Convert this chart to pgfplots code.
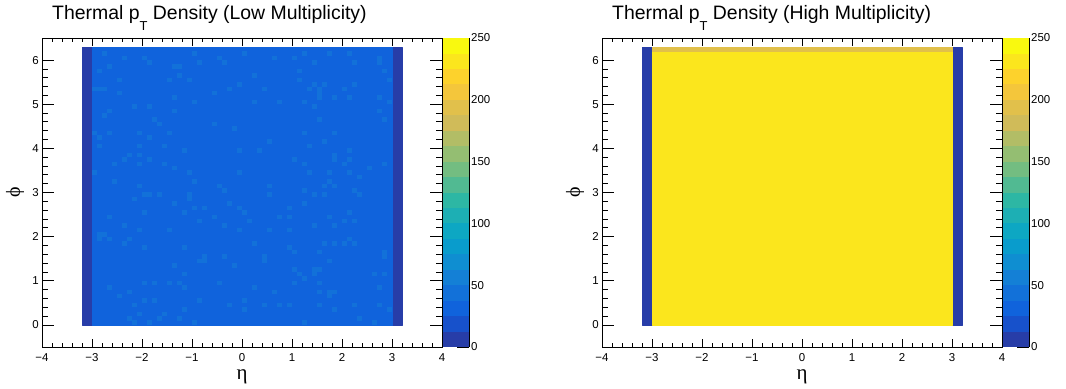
\documentclass[border=0pt]{standalone}
\usepackage{pgfplots}
\pgfplotsset{compat=1.18}
\usepgfplotslibrary{patchplots}
\usepackage{fontspec}
\setmainfont{Liberation Sans}
\newfontfamily\greekfont{Liberation Serif}

\pgfplotsset{
  colormap={rootbird}{
    rgb255=(39,61,168) rgb255=(23,81,203) rgb255=(16,99,220) rgb255=(18,113,217)
    rgb255=(20,128,214) rgb255=(15,142,209) rgb255=(9,156,204) rgb255=(13,167,195)
    rgb255=(29,175,180) rgb255=(45,183,164) rgb255=(81,186,146) rgb255=(115,189,129)
    rgb255=(148,190,114) rgb255=(178,189,102) rgb255=(208,187,89) rgb255=(225,192,75)
    rgb255=(244,198,59) rgb255=(253,210,44) rgb255=(251,230,29) rgb255=(249,249,15)},
  colormap access=piecewise constant,
}

\pgfdeclareplotmark{cell}{\pgfpathrectangle{\pgfpoint{-2.55bp}{-2.26bp}}{\pgfpoint{5.1bp}{4.52bp}}\pgfusepathqfill}
\pgfdeclareplotmark{band}{\pgfpathrectangle{\pgfpoint{-13bp}{-7.8bp}}{\pgfpoint{26bp}{15.6bp}}\pgfusepathqfill}

\pgfplotstableread{
x y c
-3.2 0 6
-3.0 0 6
-3.0 6.3 6
-3.2 6.3 6
3.0 0 6
3.2 0 6
3.2 6.3 6
3.0 6.3 6
-3.0 0 31
3.0 0 31
3.0 6.3 31
-3.0 6.3 31
}\lowbase

\pgfplotstableread{
x y c
-3.2 0 8
-3.0 0 8
-3.0 6.3 8
-3.2 6.3 8
3.0 0 8
3.2 0 8
3.2 6.3 8
3.0 6.3 8
-3.0 0 231
3.0 0 231
3.0 6.2 231
-3.0 6.2 231
-3.0 6.2 195
3.0 6.2 195
3.0 6.3 195
-3.0 6.3 195
}\highbase

\pgfplotstableread{
x y c
-2.75 6.15 42
-2.35 6.05 42
-1.95 6.05 42
-1.85 5.95 42
-0.95 6.15 42
-0.45 6.05 42
-0.85 5.95 42
-0.35 5.95 42
-2.65 5.85 42
-1.35 5.85 42
-1.25 5.85 42
-2.85 5.75 42
-1.25 5.65 42
-2.45 5.55 42
-1.45 5.55 42
-1.05 5.55 42
-0.05 5.45 42
-2.95 5.35 42
-2.85 5.35 42
-2.75 5.35 42
-0.25 5.35 42
-2.45 5.25 42
-0.55 5.25 42
-1.35 5.15 42
-0.95 5.05 42
-2.15 4.95 42
-1.85 4.95 42
-2.65 4.85 42
-1.35 4.85 42
-2.75 4.75 42
-1.75 4.65 42
-1.65 4.55 42
-0.55 4.55 42
-0.15 4.45 42
-2.95 4.35 42
-2.65 4.35 42
-2.05 4.35 42
-1.45 4.35 42
-2.85 4.25 42
-1.85 4.25 42
-2.85 4.05 42
-2.05 4.05 42
-1.55 4.05 42
-1.15 3.95 42
-0.05 3.95 42
-2.25 3.85 42
-2.05 3.85 42
-2.35 3.75 42
-1.85 3.75 42
-2.55 3.65 42
-2.05 3.65 42
-1.55 3.65 42
-1.35 3.55 42
-2.95 3.45 42
-1.05 3.45 42
-0.05 3.45 42
-2.55 3.25 42
-0.95 3.25 42
0.05 6.15 42
0.65 6.05 42
1.05 6.05 42
1.25 6.15 42
1.75 6.15 42
2.15 6.15 42
1.45 5.95 42
2.25 5.95 42
2.75 6.05 42
2.75 5.95 42
1.15 5.75 42
2.85 5.75 42
0.25 5.65 42
1.15 5.55 42
2.95 5.55 42
1.45 5.45 42
1.65 5.45 42
2.25 5.45 42
1.35 5.35 42
1.55 5.35 42
1.55 5.25 42
1.55 5.15 42
2.05 5.35 42
0.45 5.35 42
1.85 5.15 42
2.15 5.15 42
2.75 5.15 42
0.25 5.05 42
0.75 5.05 42
1.25 5.05 42
2.95 5.05 42
1.45 4.95 42
2.75 4.85 42
1.55 4.65 42
2.85 4.65 42
1.25 4.35 42
1.85 4.35 42
0.55 4.15 42
1.65 4.15 42
1.35 4.05 42
0.35 3.95 42
2.15 3.95 42
1.85 3.85 42
1.85 3.75 42
1.05 3.75 42
2.15 3.75 42
1.25 3.65 42
2.05 3.65 42
2.85 3.65 42
2.55 3.55 42
1.35 3.45 42
1.75 3.45 42
2.15 3.45 42
2.35 3.35 42
1.75 3.25 42
-2.05 3.15 42
-0.45 3.15 42
-0.35 3.05 42
-1.95 2.95 42
-1.85 2.95 42
-1.65 2.95 42
-1.05 2.95 42
-1.05 2.85 42
-2.15 2.85 42
-1.35 2.75 42
-0.25 2.75 42
-0.95 2.65 42
-0.75 2.65 42
-0.05 2.65 42
-1.95 2.55 42
-1.15 2.55 42
-2.65 2.45 42
-0.55 2.45 42
-0.85 2.35 42
-2.35 2.25 42
-0.35 2.25 42
-2.05 2.15 42
-1.45 2.15 42
-0.05 2.15 42
-2.85 2.05 42
-2.75 2.05 42
-2.85 1.95 42
-2.65 1.95 42
-2.25 1.95 42
-2.35 1.85 42
-1.95 1.75 42
-1.15 1.75 42
-0.75 1.55 42
-0.85 1.45 42
-0.75 1.45 42
-0.35 1.55 42
-1.35 1.35 42
-0.15 1.35 42
-1.15 1.15 42
-1.95 0.95 42
-1.75 0.95 42
-1.45 0.95 42
-1.25 0.95 42
-0.45 0.95 42
-2.65 0.85 42
-1.15 0.85 42
-2.25 0.75 42
-2.45 0.65 42
-1.95 0.55 42
-1.75 0.55 42
-0.85 0.55 42
-2.15 0.45 42
-0.25 0.45 42
-1.15 0.35 42
-2.05 0.25 42
-1.55 0.25 42
-2.25 0.15 42
-1.65 0.15 42
-1.25 0.15 42
-2.15 0.05 42
-1.85 0.05 42
-0.95 0.05 42
0.55 3.15 42
1.65 3.15 42
1.85 3.15 42
1.25 3.05 42
2.25 3.05 42
0.55 2.95 42
1.45 2.95 42
1.65 2.95 42
2.35 2.95 42
1.25 2.75 42
0.95 2.65 42
0.05 2.55 42
2.15 2.55 42
0.75 2.45 42
0.95 2.45 42
1.75 2.45 42
0.15 2.35 42
2.05 2.35 42
2.25 2.35 42
1.45 2.25 42
1.85 2.25 42
0.55 2.15 42
0.95 2.15 42
2.15 1.95 42
0.25 1.85 42
1.65 1.85 42
1.85 1.85 42
2.05 1.85 42
2.25 1.85 42
0.95 1.75 42
1.05 1.65 42
1.55 1.65 42
2.85 1.65 42
2.85 1.55 42
0.45 1.55 42
0.45 1.45 42
1.75 1.45 42
1.05 1.25 42
1.45 1.25 42
1.55 1.25 42
1.15 1.15 42
1.45 1.15 42
2.65 1.15 42
2.85 1.15 42
1.25 1.05 42
1.05 0.95 42
1.55 0.95 42
0.25 0.85 42
2.75 0.85 42
0.65 0.75 42
1.55 0.75 42
1.75 0.75 42
1.85 0.75 42
1.75 0.65 42
0.05 0.55 42
0.45 0.45 42
0.75 0.45 42
0.95 0.45 42
1.55 0.45 42
2.25 0.45 42
2.75 0.45 42
0.05 0.35 42
1.85 0.35 42
2.95 0.35 42
2.35 0.15 42
2.65 0.05 42
1.25 0.05 42
}\lowspeck

\pgfplotstableread{
x y c
0.5 6.25 6.25
0.5 18.75 18.75
0.5 31.25 31.25
0.5 43.75 43.75
0.5 56.25 56.25
0.5 68.75 68.75
0.5 81.25 81.25
0.5 93.75 93.75
0.5 106.25 106.25
0.5 118.75 118.75
0.5 131.25 131.25
0.5 143.75 143.75
0.5 156.25 156.25
0.5 168.75 168.75
0.5 181.25 181.25
0.5 193.75 193.75
0.5 206.25 206.25
0.5 218.75 218.75
0.5 231.25 231.25
0.5 243.75 243.75
}\bandtable

\pgfplotsset{
  rootmap/.style={
    scale only axis, width=400bp, height=309bp, anchor=south west,
    xmin=-4, xmax=4, ymin=-0.5, ymax=6.5,
    point meta min=0, point meta max=250,
    xtick={-4,...,4},
    xticklabels={−4,−3,−2,−1,0,1,2,3,4},
    ytick={0,...,6},
    yticklabels={0,1,2,3,4,5,6},
    minor x tick num=4, minor y tick num=4,
    tick align=inside,
    major tick length=10bp, minor tick length=5bp,
    xtick style={/pgfplots/major tick length=8bp,/pgfplots/minor tick length=4bp},
    ytick style={/pgfplots/major tick length=12bp,/pgfplots/minor tick length=6bp},
    every tick/.style={black, line width=0.8bp},
    axis line style={line width=0.8bp},
    tick label style={font=\fontsize{11.5}{12}\selectfont},
    xticklabel style={anchor=north, inner sep=0pt, yshift=-6bp},
    yticklabel style={anchor=east, inner sep=0pt, xshift=-3bp},
    xlabel={\greekfont η}, ylabel={\greekfont ϕ},
    every axis x label/.style={at={(axis description cs:0.5,-0.1068)}, anchor=base, inner sep=0pt, font=\fontsize{21}{21}\selectfont},
    every axis y label/.style={at={(axis description cs:-0.0675,0.5)}, rotate=90, anchor=center, inner sep=0pt, font=\fontsize{20}{20}\selectfont},
    axis on top,
    clip=true,
  },
  rootbar/.style={
    scale only axis, width=26bp, height=309bp, anchor=south west,
    xmin=0, xmax=1, ymin=0, ymax=250,
    point meta min=0, point meta max=250,
    axis x line=none, axis y line*=right,
    ytick={0,50,100,150,200,250},
    yticklabels={0,50,100,150,200,250},
    minor ytick={},
    yticklabel pos=right,
    tick align=inside, major tick length=12.5bp,
    every tick/.style={black, line width=0.8bp},
    axis line style={line width=0.8bp},
    tick label style={font=\fontsize{11.5}{12}\selectfont},
    yticklabel style={anchor=west, inner sep=0pt, xshift=2bp},
    axis on top, clip=false,
  },
}

\begin{document}
\begin{tikzpicture}
\path[use as bounding box] (0,0) rectangle (1066bp,389bp);

% ---- Left panel ----
\begin{axis}[rootmap, at={(42bp,42bp)}]
\addplot[patch, patch type=rectangle, shader=flat corner, point meta=explicit] table[x=x, y=y, meta=c] {\lowbase};
\addplot[scatter, only marks, mark=cell, point meta=explicit] table[x=x, y=y, meta=c] {\lowspeck};
\end{axis}
\begin{axis}[rootbar, at={(443bp,42bp)}]
\addplot[scatter, only marks, mark=band, point meta=explicit] table[x=x, y=y, meta=c] {\bandtable};
\end{axis}
\node[anchor=base west, inner sep=0pt, font=\fontsize{19.5}{20}\selectfont] at (52bp,369bp)
  {Thermal p\raisebox{-11bp}{\fontsize{13}{13}\selectfont T} Density (Low Multiplicity)};

% ---- Right panel ----
\begin{axis}[rootmap, at={(602bp,42bp)}]
\addplot[patch, patch type=rectangle, shader=flat corner, point meta=explicit] table[x=x, y=y, meta=c] {\highbase};
\end{axis}
\begin{axis}[rootbar, at={(1003bp,42bp)}]
\addplot[scatter, only marks, mark=band, point meta=explicit] table[x=x, y=y, meta=c] {\bandtable};
\end{axis}
\node[anchor=base west, inner sep=0pt, font=\fontsize{19.5}{20}\selectfont] at (612bp,369bp)
  {Thermal p\raisebox{-11bp}{\fontsize{13}{13}\selectfont T} Density (High Multiplicity)};
\end{tikzpicture}
\end{document}
